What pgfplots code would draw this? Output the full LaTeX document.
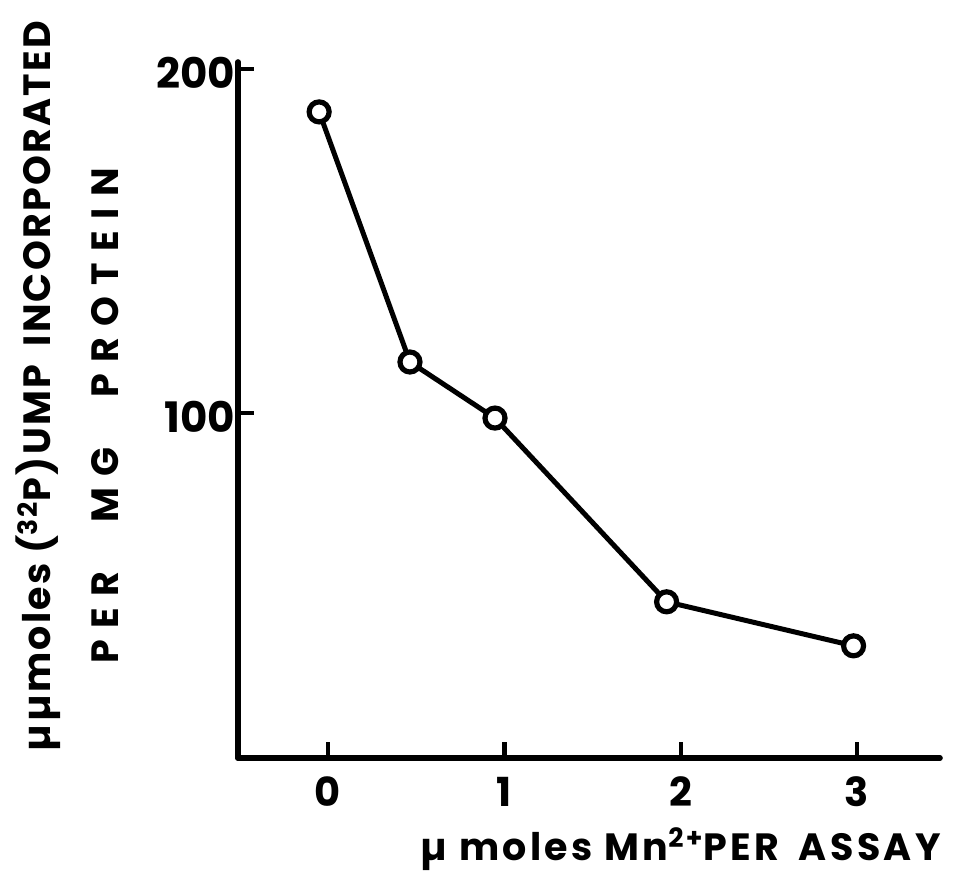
\documentclass[border=0pt]{standalone}
\usepackage{fontspec}
\setmainfont{Poppins}
\usepackage{pgfplots}
\pgfplotsset{compat=1.18}
\begin{document}
\begin{tikzpicture}
\begin{axis}[name=ax, scale only axis, width=351pt, height=348pt,
  xmin=-0.51, xmax=3.47, ymin=-0.3, ymax=202,
  axis x line=bottom, axis y line=left,
  axis line style={-, line width=2.8pt, line cap=round},
  xtick={0,1,2,3}, ytick={100,200},
  tick align=inside, major tick length=8pt,
  tick style={line width=2.2pt, black},
  /pgf/number format/assume math mode=true,
  xticklabel style={font=\fontsize{20}{20}\bfseries\selectfont, yshift=-6pt},
  yticklabel style={font=\fontsize{21}{21}\bfseries\selectfont, xshift=2pt, yshift=-2pt},
  clip=false]
\addplot[line width=2.5pt, black, mark=*, mark size=5pt,
  mark options={line width=2.6pt, fill=white, draw=black}]
  coordinates {(-0.05,187.5) (0.465,114.8) (0.947,98.5) (1.92,45.1) (2.98,32.3)};
\end{axis}
\node[anchor=east, font=\fontsize{19}{19}\bfseries\selectfont] at ([shift={(4pt,-45.5pt)}]ax.south east) {\addfontfeature{LetterSpace=9}µ moles Mn\textsuperscript{2+}PER\hspace{4pt} ASSAY};
\node[rotate=90, font=\fontsize{19}{19}\bfseries\selectfont] at ([shift={(-100pt,-162pt)}]ax.north west) {\addfontfeature{LetterSpace=6}µµmoles (\textsuperscript{32}P)UMP\hspace{4pt} INCORPORATED};
\node[rotate=90, font=\fontsize{19}{19}\bfseries\selectfont] at ([shift={(-66.5pt,-177pt)}]ax.north west) {\addfontfeature{LetterSpace=30}PER\hspace{15pt} MG\hspace{15pt} PROTEIN};
\pgfresetboundingbox
\path[use as bounding box] ([shift={(-119pt,-60pt)}]ax.south west) rectangle ([shift={(8pt,31pt)}]ax.north east);
\end{tikzpicture}
\end{document}
